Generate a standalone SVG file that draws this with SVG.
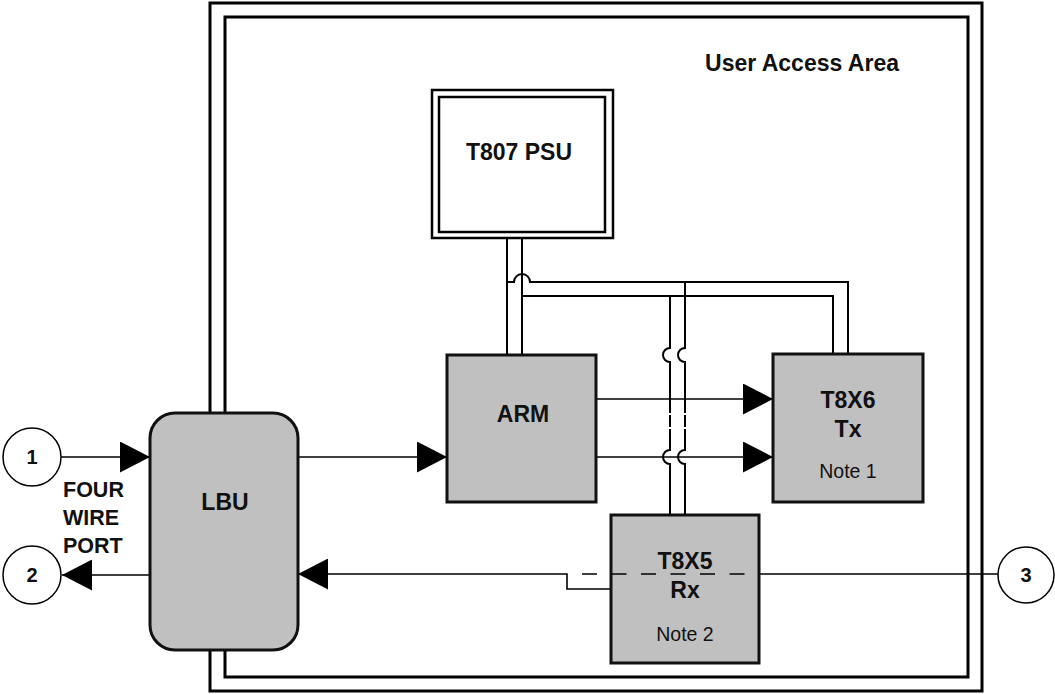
<svg xmlns="http://www.w3.org/2000/svg" width="1055" height="694" viewBox="0 0 1055 694">
  <style>
    .frame { fill: none; stroke: #000; stroke-width: 3; }
    .box { fill: #c0c0c0; stroke: #111; stroke-width: 3; }
    .psu { fill: #fff; stroke: #000; stroke-width: 2.5; }
    .port { fill: #fff; stroke: #000; stroke-width: 1.5; }
    .wire { fill: none; stroke: #000; stroke-width: 2; }
    .sig { fill: none; stroke: #000; stroke-width: 1.6; }
    .dash { fill: none; stroke: #000; stroke-width: 1.6; stroke-dasharray: 15 14.5; }
    .lbl { font-family: "Liberation Sans", Arial, sans-serif; font-weight: bold; font-size: 23px; fill: #111; text-anchor: middle; }
    .note { font-family: "Liberation Sans", Arial, sans-serif; font-size: 19.5px; fill: #111; text-anchor: middle; }
    .num { font-family: "Liberation Sans", Arial, sans-serif; font-weight: bold; font-size: 20px; fill: #111; text-anchor: middle; }
    .side { font-family: "Liberation Sans", Arial, sans-serif; font-weight: bold; font-size: 21.5px; fill: #111; }
  </style>
  <defs>
    <marker id="head" markerUnits="userSpaceOnUse" markerWidth="30" markerHeight="31" refX="30" refY="15.5" orient="auto">
      <path d="M0,0 L30,15.5 L0,31 Z" fill="#000"/>
    </marker>
  </defs>

  <!-- double boundary of the user access area -->
  <g id="enclosure">
    <rect class="frame" x="210" y="3" width="772" height="688"/>
    <rect class="frame" x="225" y="17" width="743" height="660"/>
    <text class="lbl" x="802" y="71">User Access Area</text>
  </g>

  <!-- connectors -->
  <g id="connectors">
    <!-- power bus from PSU -->
    <path class="wire" d="M507,238 V355"/>
    <path class="wire" d="M522,238 V355"/>
    <path class="wire" d="M507,282 H514 A8,8 0 0 1 530,282 H848 V354"/>
    <path class="wire" d="M522,296 H833 V354"/>
    <!-- drops to the receiver, hopping over crossing lines -->
    <path class="wire" d="M685,282 V348 A7,7 0 0 0 685,362 V413 M685,415 V427 M685,429 V450 A7,7 0 0 0 685,464 V515"/>
    <path class="wire" d="M670,296 V348 A7,7 0 0 0 670,362 V413 M670,415 V427 M670,429 V450 A7,7 0 0 0 670,464 V515"/>

    <!-- four wire port -->
    <path class="sig" d="M61,457 H150" marker-end="url(#head)"/>
    <path class="sig" d="M150,575 H62" marker-end="url(#head)"/>
    <!-- LBU to ARM -->
    <path class="sig" d="M298,457 H447" marker-end="url(#head)"/>
    <!-- ARM to transmitter -->
    <path class="sig" d="M596,399 H773" marker-end="url(#head)"/>
    <path class="sig" d="M596,457 H773" marker-end="url(#head)"/>
    <!-- receiver return to LBU -->
    <path class="sig" d="M611,589 H567 V574 H298" marker-end="url(#head)"/>
    <path class="sig" d="M998,574 H759"/>
  </g>

  <g id="lbu">
    <rect class="box" x="150" y="413" width="148" height="237" rx="25" ry="25"/>
    <text class="lbl" x="225" y="510">LBU</text>
  </g>

  <g id="psu">
    <rect class="psu" x="432" y="90" width="181" height="148"/>
    <rect class="psu" x="439" y="97" width="166" height="135"/>
    <text class="lbl" x="519" y="160">T807 PSU</text>
  </g>

  <g id="arm">
    <rect class="box" x="447" y="355" width="149" height="147"/>
    <text class="lbl" x="523" y="422">ARM</text>
  </g>

  <g id="tx">
    <rect class="box" x="773" y="354" width="150" height="148"/>
    <text class="lbl" x="848" y="408">T8X6</text>
    <text class="lbl" x="848" y="437">Tx</text>
    <text class="note" x="848" y="478">Note 1</text>
  </g>

  <g id="rx">
    <rect class="box" x="611" y="515" width="148" height="148"/>
    <text class="lbl" x="685" y="569">T8X5</text>
    <text class="lbl" x="685" y="598">Rx</text>
    <text class="note" x="685" y="641">Note 2</text>
    <path class="dash" d="M582,574 H745"/>
  </g>

  <g id="port1">
    <circle class="port" cx="32" cy="457" r="29"/>
    <text class="num" x="32" y="464">1</text>
  </g>
  <g id="port2">
    <circle class="port" cx="32" cy="575" r="29"/>
    <text class="num" x="32" y="582">2</text>
  </g>
  <g id="port3">
    <circle class="port" cx="1026" cy="575" r="28"/>
    <text class="num" x="1026" y="582">3</text>
  </g>

  <g id="port-label">
    <text class="side" x="63" y="497">FOUR</text>
    <text class="side" x="63" y="525">WIRE</text>
    <text class="side" x="63" y="553">PORT</text>
  </g>
</svg>
